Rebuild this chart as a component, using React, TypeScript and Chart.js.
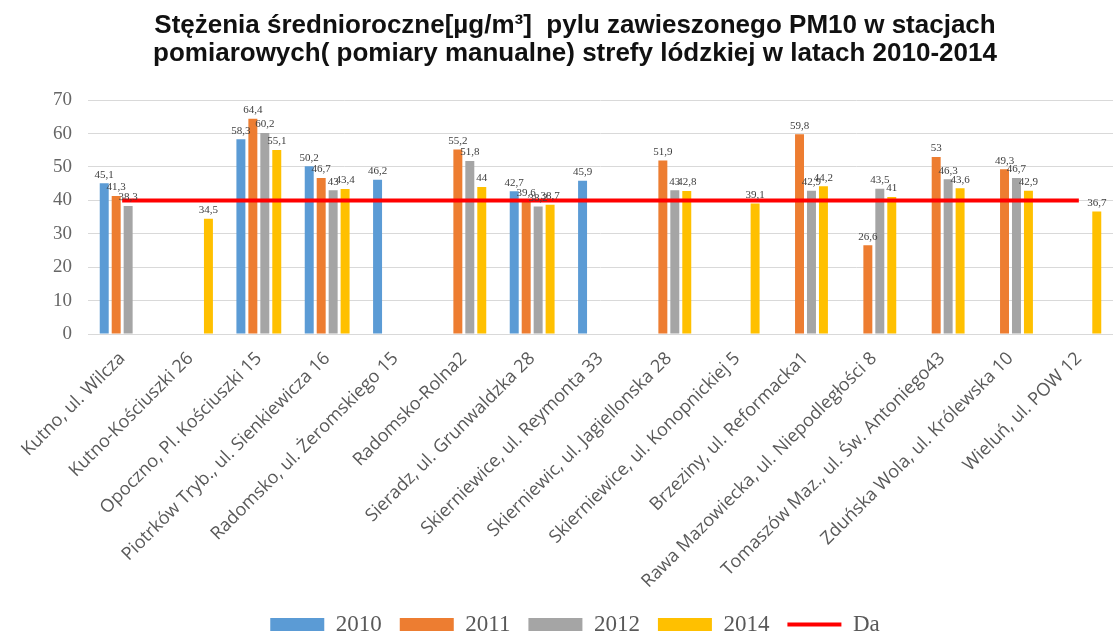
import React, { useEffect, useRef } from "react";
import { Chart, registerables } from "chart.js";

Chart.register(...registerables);

const titleLines = [
  "Stężenia średnioroczne[µg/m³]  pylu zawieszonego PM10 w stacjach",
  "pomiarowych( pomiary manualne) strefy lódzkiej w latach 2010-2014",
];

const stations = [
  "Kutno, ul. Wilcza",
  "Kutno-Kościuszki 26",
  "Opoczno, Pl. Kościuszki 15",
  "Piotrków Tryb., ul. Sienkiewicza 16",
  "Radomsko, ul. Żeromskiego 15",
  "Radomsko-Rolna2",
  "Sieradz, ul. Grunwaldzka 28",
  "Skierniewice, ul. Reymonta 33",
  "Skierniewic, ul. Jagiellonska 28",
  "Skierniewice, ul. Konopnickiej 5",
  "Brzeziny, ul. Reformacka1",
  "Rawa Mazowiecka, ul. Niepodległości 8",
  "Tomaszów Maz., ul. Św. Antoniego43",
  "Zduńska Wola, ul. Królewska 10",
  "Wieluń, ul. POW 12",
];

const values2010 = [45.1, null, 58.3, 50.2, 46.2, null, 42.7, 45.9, null, null, null, null, null, null, null];
const values2011 = [41.3, null, 64.4, 46.7, null, 55.2, 39.6, null, 51.9, null, 59.8, 26.6, 53, 49.3, null];
const values2012 = [38.3, null, 60.2, 43, null, 51.8, 38.2, null, 43, null, 42.9, 43.5, 46.3, 46.7, null];
const values2014 = [null, 34.5, 55.1, 43.4, null, 44, 38.7, null, 42.8, 39.1, 44.2, 41, 43.6, 42.9, 36.7];
const limitDa = [40, 40, 40, 40, 40, 40, 40, 40, 40, 40, 40, 40, 40, 40, 40];

const yTicks = [0, 10, 20, 30, 40, 50, 60, 70];

const valueLabels = {
  id: "valueLabels",
  afterDatasetsDraw(chart: any) {
    const ctx = chart.ctx;
    ctx.save();
    ctx.font = '11px "Liberation Serif"';
    ctx.fillStyle = "#404040";
    ctx.textAlign = "center";
    ctx.textBaseline = "bottom";
    chart.data.datasets.forEach((ds: any, i: number) => {
      if (ds.type === "line") return;
      const meta = chart.getDatasetMeta(i);
      meta.data.forEach((el: any, j: number) => {
        const v = ds.data[j];
        if (v == null) return;
        ctx.fillText(String(v).replace(".", ","), el.x, el.y - 3);
      });
    });
    ctx.restore();
  },
};

export default function App() {
  const canvasRef = useRef<HTMLCanvasElement | null>(null);

  useEffect(() => {
    if (!canvasRef.current) return;
    const chart = new Chart(canvasRef.current, {
      type: "bar",
      data: {
        labels: stations,
        datasets: [
          { label: "2010", data: values2010, backgroundColor: "#5B9BD5", order: 1 },
          { label: "2011", data: values2011, backgroundColor: "#ED7D31", order: 1 },
          { label: "2012", data: values2012, backgroundColor: "#A5A5A5", order: 1 },
          { label: "2014", data: values2014, backgroundColor: "#FFC000", order: 1 },
          {
            type: "line",
            label: "Da",
            data: limitDa,
            borderColor: "#FF0000",
            backgroundColor: "#FF0000",
            borderWidth: 4,
            pointRadius: 0,
            order: 0,
          } as any,
        ],
      },
      options: {
        responsive: true,
        maintainAspectRatio: false,
        animation: false,
        datasets: {
          bar: { categoryPercentage: 0.7, barPercentage: 0.75 },
        },
        layout: { padding: { left: 37, right: 0, top: 8, bottom: -13 } },
        plugins: {
          tooltip: { enabled: false },
          title: {
            display: true,
            text: titleLines,
            color: "#111",
            font: { family: "Liberation Sans", size: 26, weight: "bold", lineHeight: 1.08 },
            padding: { top: 4, bottom: 32 },
          },
          legend: {
            position: "bottom",
            labels: {
              usePointStyle: true,
              pointStyleWidth: 54,
              boxHeight: 13,
              color: "#595959",
              font: { family: "Liberation Serif", size: 23 },
              padding: 18,
              generateLabels: (chart: any) => {
                const items = Chart.defaults.plugins.legend.labels.generateLabels(chart);
                return items
                  .sort((a: any, b: any) => a.datasetIndex - b.datasetIndex)
                  .map((it: any) => {
                    const ds = chart.data.datasets[it.datasetIndex];
                    if (ds.type === "line") {
                      return { ...it, pointStyle: "line", lineWidth: 4, strokeStyle: "#FF0000" };
                    }
                    return { ...it, pointStyle: "rect", lineWidth: 0 };
                  });
              },
            },
          },
        },
        scales: {
          x: {
            grid: { display: false },
            border: { color: "#d9d9d9" },
            afterFit: (scale: any) => {
              scale.height = 261;
            },
            ticks: {
              autoSkip: false,
              maxRotation: 45,
              minRotation: 45,
              color: "#595959",
              font: { family: "Open Sans", size: 18 },
              padding: 6,
            },
          },
          y: {
            min: 0,
            max: 70,
            afterBuildTicks: (axis: any) => {
              axis.ticks = yTicks.map((v) => ({ value: v }));
            },
            grid: { color: "#d9d9d9", drawTicks: false },
            border: { display: false },
            ticks: {
              color: "#666666",
              font: { family: "Liberation Serif", size: 19 },
              padding: 16,
            },
          },
        },
      },
      plugins: [valueLabels],
    });
    return () => chart.destroy();
  }, []);

  return (
    <div style={{ position: "absolute", left: 0, top: 0, width: 1113, height: 633, background: "#fff" }}>
      <canvas ref={canvasRef} />
    </div>
  );
}
